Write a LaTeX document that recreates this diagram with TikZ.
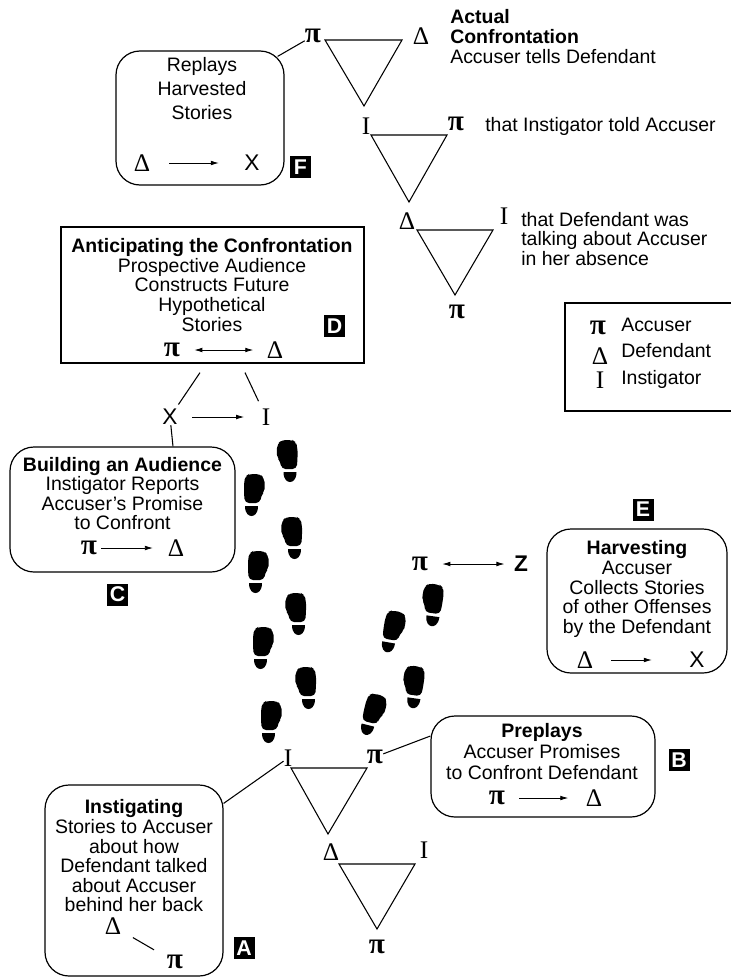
\documentclass[tikz,border=0pt]{standalone}
\usepackage{fontspec}
\setmainfont{Liberation Sans}
\newfontfamily\symfont{Liberation Serif}
\usepackage{tikz}
\usetikzlibrary{arrows.meta,positioning,calc}

\newcommand{\accsym}{{\symfont\bfseries\fontsize{22}{22}\selectfont π}}
\newcommand{\defsym}{{\symfont\fontsize{19}{19}\selectfont Δ}}
\newcommand{\inssym}{{\symfont\fontsize{19}{19}\selectfont I}}
\newcommand{\shoeprint}[4]{%
  \begin{scope}[shift={(#1,#2)}, rotate=#3, xscale=#4]
    \fill[rounded corners=3pt] (-5,-21) -- (6,-21) -- (10,-17) -- (11,-9) -- (10,-3) -- (7,1) -- (6,8) -- (-9,8) -- (-10,0) -- (-10,-14) -- (-8,-19) -- cycle;
    \fill (-9,11) -- (4,11) .. controls (4,19) and (0,21) .. (-2.5,21) .. controls (-5,21) and (-9,19) .. (-9,11) -- cycle;
  \end{scope}}

\begin{document}
\begin{tikzpicture}[x=0.75pt, y=-0.75pt,
    story/.style={draw, line width=0.9pt, rounded corners=18pt, inner sep=0pt},
    plainbox/.style={draw, line width=0.9pt, inner sep=0pt},
    note/.style={font=\fontsize{14.6}{14.7}\selectfont, inner sep=0pt, align=center},
    bigx/.style={font=\fontsize{17}{17}\selectfont, inner sep=0pt},
    sym/.style={inner sep=0pt},
    tag/.style={fill=black, text=white, font=\bfseries\fontsize{16}{16}\selectfont, minimum width=15.75pt, minimum height=16.5pt, inner sep=0pt},
    tri/.style={line width=0.8pt, line join=miter},
    link/.style={line width=0.8pt},
    flow/.style={line width=0.6pt, -{Latex[length=6pt,width=3.5pt]}},
    both/.style={line width=0.6pt, {Latex[length=6pt,width=3.5pt]}-{Latex[length=6pt,width=3.5pt]}}]
  \useasboundingbox (0,0) rectangle (731,978);

  \node[sym] (pi1) at (313,36) {\accsym};
  \node[sym] (del1) at (421,36) {\defsym};
  \coordinate (t1a) at (325,40);
  \coordinate (t1b) at (402,40);
  \coordinate (t1c) at (364,106);
  \draw[tri] (t1a) -- (t1b) -- (t1c) -- cycle;
  \node[note, align=left, anchor=west] (actual) at (450,36.5) {\textbf{Actual}\\\textbf{Confrontation}\\Accuser tells Defendant};

  \node[sym] (ins2) at (366,126) {\inssym};
  \node[sym] (pi2) at (456,124) {\accsym};
  \coordinate (t2a) at (371,135);
  \coordinate (t2b) at (447,135);
  \coordinate (t2c) at (409,202);
  \draw[tri] (t2a) -- (t2b) -- (t2c) -- cycle;
  \node[note, anchor=west] (told) at (485,126) {that Instigator told Accuser};

  \node[sym] (del3) at (407,221) {\defsym};
  \node[sym] (ins3) at (504,216) {\inssym};
  \coordinate (t3a) at (417,230);
  \coordinate (t3b) at (493,230);
  \coordinate (t3c) at (455,295);
  \draw[tri] (t3a) -- (t3b) -- (t3c) -- cycle;
  \node[sym] (pi3) at (457,312) {\accsym};
  \node[note, align=left, anchor=west] (talking) at (521,239) {that Defendant was\\talking about Accuser\\in her absence};

  \node[story, minimum width=126pt, minimum height=100.5pt] (boxF) at (200,118) {};
  \node[note, font=\fontsize{14.6}{18}\selectfont] (replays) at (202,89) {Replays\\Harvested\\Stories};
  \node[sym] (delF) at (142,163) {\defsym};
  \node[bigx] (xF) at (252,163) {X};
  \draw[flow, shorten <=14pt, shorten >=19pt] (delF) -- (xF);
  \node[tag] (tagF) at (300.5,167) {F};
  \draw[link] (pi1) -- ($(boxF.north east)+(-7,6)$);

  \node[plainbox, minimum width=227.25pt, minimum height=102pt] (boxD) at (212.5,295) {};
  \node[note] (anticip) at (212,285) {\textbf{Anticipating the Confrontation}\\Prospective Audience\\Constructs Future\\Hypothetical\\Stories};
  \node[sym] (piD) at (172,350) {\accsym};
  \node[sym] (delD) at (275,350) {\defsym};
  \draw[both, shorten <=10.5pt, shorten >=10pt] (piD) -- (delD);
  \node[tag] (tagD) at (334.5,326) {D};

  \node[plainbox, minimum width=131.25pt, minimum height=81pt] (legend) at (652.5,357) {};
  \node[sym] (piL) at (598,328) {\accsym};
  \node[sym] (delL) at (600,356) {\defsym};
  \node[sym] (insL) at (600,380) {\inssym};
  \node[note, anchor=west] (accL) at (621,325) {Accuser};
  \node[note, anchor=west] (defL) at (621,351) {Defendant};
  \node[note, anchor=west] (insLt) at (621,379) {Instigator};

  \node[story, minimum width=168.75pt, minimum height=93.75pt] (boxC) at (122.5,509.5) {};
  \node[note] (building) at (122.5,493.5) {\textbf{Building an Audience}\\Instigator Reports\\Accuser's Promise\\to Confront};
  \node[sym] (piC) at (89,548) {\accsym};
  \node[sym] (delC) at (176,548) {\defsym};
  \draw[flow, shorten <=3pt, shorten >=11pt] (piC) -- (delC);
  \node[tag] (tagC) at (117.5,594.5) {C};

  \node[bigx] (xC) at (170,417) {X};
  \node[sym] (insC) at (266,417) {\inssym};
  \draw[flow, shorten <=11pt, shorten >=13pt] (xC) -- (insC);
  \draw[link, shorten >=4pt] ($(boxD.south)+(-12.5,9)$) -- (xC);
  \draw[link, shorten >=6pt] ($(boxD.south)+(32.5,9)$) -- (insC);
  \draw[link] (xC) -- ($(boxC.north)+(50.5,0)$);

  \node[tag] (tagE) at (643,509.5) {E};
  \node[sym] (piZ) at (420,564) {\accsym};
  \node[bigx, font=\bfseries\fontsize{17}{17}\selectfont] (zE) at (521,564) {Z};
  \draw[both, shorten <=10.5pt, shorten >=7pt] (piZ) -- (zE);
  \node[story, minimum width=135pt, minimum height=108pt] (boxE) at (637,601) {};
  \node[note] (harvest) at (637,589) {\textbf{Harvesting}\\Accuser\\Collects Stories\\of other Offenses\\by the Defendant};
  \node[sym] (delE) at (585,660) {\defsym};
  \node[bigx] (xE) at (697,660) {X};
  \draw[flow, shorten <=13.5pt, shorten >=28pt] (delE) -- (xE);

  \node[story, minimum width=168pt, minimum height=75.75pt] (boxB) at (543,766.5) {};
  \node[note, font=\fontsize{14.6}{16}\selectfont] (preplays) at (542,751.5) {\textbf{Preplays}\\Accuser Promises\\to Confront Defendant};
  \node[sym] (piB) at (497,798) {\accsym};
  \node[sym] (delB) at (594,798) {\defsym};
  \draw[flow, shorten <=10.5pt, shorten >=13pt] (piB) -- (delB);
  \node[tag] (tagB) at (679,760) {B};

  \node[sym] (ins4) at (288,758) {\inssym};
  \node[sym] (pi4) at (375,757) {\accsym};
  \coordinate (t4a) at (291,768);
  \coordinate (t4b) at (367,768);
  \coordinate (t4c) at (328,834);
  \draw[tri] (t4a) -- (t4b) -- (t4c) -- cycle;
  \node[sym] (del5) at (331,852) {\defsym};
  \node[sym] (ins5) at (424,850) {\inssym};
  \coordinate (t5a) at (339,864);
  \coordinate (t5b) at (415,864);
  \coordinate (t5c) at (377,929);
  \draw[tri] (t5a) -- (t5b) -- (t5c) -- cycle;
  \node[sym] (pi5) at (377,947) {\accsym};

  \node[story, minimum width=133.5pt, minimum height=143.25pt] (boxA) at (134,880.5) {};
  \node[note] (instig) at (134,856) {\textbf{Instigating}\\Stories to Accuser\\about how\\Defendant talked\\about Accuser\\behind her back};
  \node[sym] (delA) at (113,926) {\defsym};
  \node[sym] (piA) at (175,962) {\accsym};
  \draw[link, shorten <=10pt, shorten >=11pt] (delA) -- (piA);
  \node[tag] (tagA) at (244,948) {A};

  \draw[link] (pi4) -- ($(boxB.west)+(0,-30.5)$);
  \draw[link] (ins4) -- ($(boxA.north east)+(0,19)$);

  \shoeprint{287.5}{461}{0}{-1}
  \shoeprint{254}{495}{0}{1}
  \shoeprint{292}{538}{0}{-1}
  \shoeprint{258}{572}{0}{1}
  \shoeprint{296}{614}{0}{-1}
  \shoeprint{263}{648}{0}{1}
  \shoeprint{306}{688}{0}{-1}
  \shoeprint{271}{722}{0}{1}
  \shoeprint{432}{605}{-8}{-1}
  \shoeprint{393}{632}{-10}{1}
  \shoeprint{413}{687}{-8}{-1}
  \shoeprint{373}{715}{-14}{1}
\end{tikzpicture}
\end{document}
